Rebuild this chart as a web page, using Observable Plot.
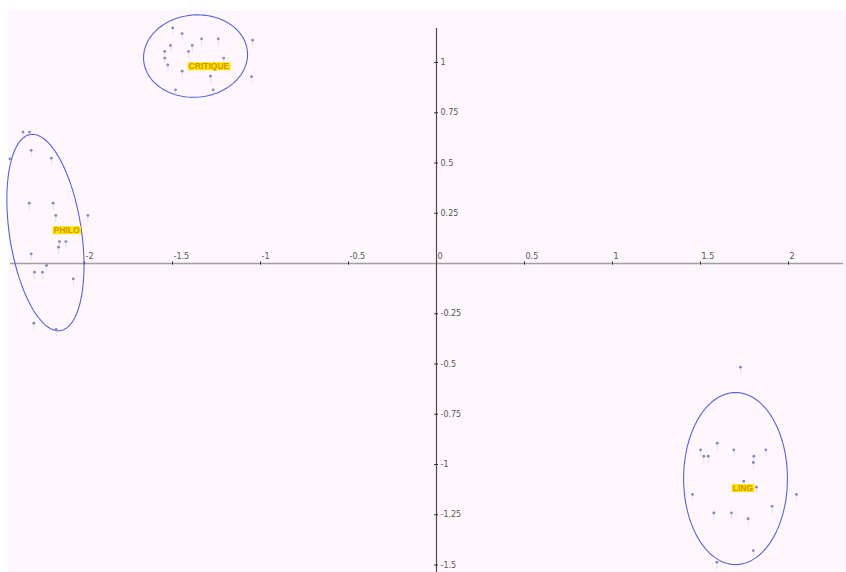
<!DOCTYPE html>
<html>
<head>
<meta charset="utf-8">
<script src="https://cdn.jsdelivr.net/npm/d3@7"></script>
<script src="https://cdn.jsdelivr.net/npm/@observablehq/plot@0.6"></script>
<style>
  html, body { margin: 0; padding: 0; background: #ffffff; }
  svg { display: block; }
</style>
</head>
<body>
<div id="chart"></div>
<script>
// ---- Data ----
const critiquePts = [
  [-1.499, 1.172], [-1.445, 1.144], [-1.045, 1.111], [-1.335, 1.118], [-1.240, 1.118],
  [-1.511, 1.085], [-1.388, 1.085], [-1.544, 1.055], [-1.409, 1.055], [-1.544, 1.022],
  [-1.209, 1.022], [-1.527, 0.988], [-1.445, 0.957], [-1.284, 0.932], [-1.051, 0.930],
  [-1.483, 0.864], [-1.269, 0.864]
];
const philoPts = [
  [-2.350, 0.654], [-2.313, 0.654], [-2.303, 0.563], [-2.424, 0.521], [-2.188, 0.524],
  [-2.314, 0.300], [-2.178, 0.300], [-1.981, 0.239], [-2.163, 0.239], [-2.142, 0.109],
  [-2.106, 0.109], [-2.148, 0.081], [-2.303, 0.048], [-2.216, -0.010], [-2.284, -0.043],
  [-2.239, -0.043], [-2.064, -0.076], [-2.288, -0.297], [-2.161, -0.328]
];
const lingPts = [
  [1.727, -0.516], [1.595, -0.894], [1.500, -0.927], [1.689, -0.927], [1.871, -0.927],
  [1.519, -0.959], [1.544, -0.959], [1.803, -0.959], [1.800, -0.990], [1.746, -1.083],
  [1.818, -1.113], [1.455, -1.149], [2.045, -1.149], [1.907, -1.208], [1.576, -1.241],
  [1.676, -1.241], [1.771, -1.270], [1.800, -1.428], [1.593, -1.486]
];
const groupNames = ["CRITIQUE", "PHILO", "LING"];
const labelX = [-1.293, -2.102, 1.741];
const labelY = [0.980, 0.164, -1.119];
// ellipse: center, first half-axis vector, second half-axis vector (data units)
const ellCenter = [[-1.369, 1.032], [-2.222, 0.154], [1.699, -1.070]];
const ellAxisA = [[0.295, 0.020], [-0.085, 0.488], [0.295, 0.0]];
const ellAxisB = [[0.017, -0.204], [0.202, 0.027], [0.0, 0.428]];

const xTicks = [-2, -1.5, -1, -0.5, 0.5, 1, 1.5, 2];
const xTickLabels = ["-2", "-1.5", "-1", "-0.5", "0.5", "1", "1.5", "2"];
const yTicks = [1, 0.75, 0.5, 0.25, -0.25, -0.5, -0.75, -1, -1.25, -1.5];
const yTickLabels = ["1", "0.75", "0.5", "0.25", "-0.25", "-0.5", "-0.75", "-1", "-1.25", "-1.5"];

// ---- Build tables ----
const points = [
  ...critiquePts.map(([x, y]) => ({x, y, g: "CRITIQUE"})),
  ...philoPts.map(([x, y]) => ({x, y, g: "PHILO"})),
  ...lingPts.map(([x, y]) => ({x, y, g: "LING"}))
];
const ellipsePath = [];
groupNames.forEach((g, i) => {
  const [cx, cy] = ellCenter[i], [ax, ay] = ellAxisA[i], [bx, by] = ellAxisB[i];
  const n = 120;
  for (let k = 0; k < n; k++) {
    const t = 2 * Math.PI * k / n;
    ellipsePath.push({g, x: cx + ax * Math.cos(t) + bx * Math.sin(t), y: cy + ay * Math.cos(t) + by * Math.sin(t)});
  }
});
const labels = groupNames.map((g, i) => ({g, x: labelX[i], y: labelY[i]}));
const xt = xTicks.map((v, i) => ({v, t: xTickLabels[i]}));
const yt = yTicks.map((v, i) => ({v, t: yTickLabels[i]}));

const tickFont = "DejaVu Sans, sans-serif";

const chart = Plot.plot({
  width: 846,
  height: 572,
  marginLeft: 8,
  marginTop: 9,
  marginRight: 0,
  marginBottom: 0,
  x: {domain: [-428 / 176, 410 / 176], axis: null},
  y: {domain: [-309 / 201, 254 / 201], axis: null},
  style: {background: "#ffffff"},
  marks: [
    Plot.frame({fill: "#fff7fd", stroke: null}),
    // axes
    Plot.ruleY([0], {x1: -2.42, x2: 2.313, stroke: "#a0a0a0", strokeWidth: 1.5}),
    Plot.ruleX([0], {y1: -1.54, y2: 1.169, stroke: "#4a4a4a", strokeWidth: 1.2}),
    Plot.ruleX(xTicks, {y1: -0.008, y2: 0.008, stroke: "#333", strokeWidth: 1}),
    Plot.ruleY(yTicks, {x1: -0.011, x2: 0.011, stroke: "#333", strokeWidth: 1}),
    Plot.text(xt, {x: "v", y: 0, text: "t", dx: 1, dy: -7, textAnchor: "start", fontSize: 8, fill: "#555", fontFamily: tickFont}),
    Plot.text(["0"], {x: 0, y: 0, text: d => d, dx: 1, dy: -7, textAnchor: "start", fontSize: 8, fill: "#555", fontFamily: tickFont}),
    Plot.text(yt, {x: 0, y: "v", text: "t", dx: 4, textAnchor: "start", fontSize: 8, fill: "#555", fontFamily: tickFont}),
    // ellipses
    Plot.line(ellipsePath, {x: "x", y: "y", z: "g", curve: "linear-closed", stroke: "#5565d8", strokeWidth: 1.1}),
    // points (pin style)
    Plot.text(points, {x: "x", y: "y", text: () => "|", dy: 3.5, fontSize: 6, fill: "#cdd0de", fontFamily: tickFont}),
    Plot.dot(points, {x: "x", y: "y", r: 1.4, fill: "#8088c0", stroke: null}),
    // group labels
    Plot.text(labels, {x: "x", y: "y", text: "g", fontSize: 8.5, fontWeight: "bold", fill: "#d09400", fontFamily: "Liberation Sans, Arial, sans-serif", className: "grp-label"})
  ]
});
document.getElementById("chart").append(chart);

// yellow boxes behind group labels
const ns = "http://www.w3.org/2000/svg";
chart.querySelectorAll(".grp-label text").forEach(t => {
  const bb = t.getBBox();
  const r = document.createElementNS(ns, "rect");
  r.setAttribute("x", bb.x - 1);
  r.setAttribute("y", bb.y + 1);
  r.setAttribute("width", bb.width + 2);
  r.setAttribute("height", Math.max(0, bb.height - 2));
  r.setAttribute("fill", "#ffe600");
  const tr = t.getAttribute("transform");
  if (tr) r.setAttribute("transform", tr);
  t.parentNode.insertBefore(r, t);
});
</script>
</body>
</html>
